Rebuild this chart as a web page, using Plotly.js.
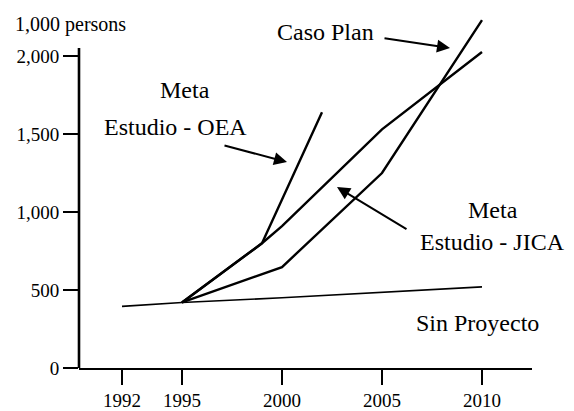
<!DOCTYPE html>
<html>
<head>
<meta charset="utf-8">
<script src="https://cdn.plot.ly/plotly-3.0.1.min.js"></script>
<style>html,body{margin:0;padding:0;background:#fff;}#chart{width:574px;height:411px;}</style>
</head>
<body>
<div id="chart"></div>
<script>
// Data (thousand persons)
var yearsSin = [1992, 1995, 2000, 2005, 2010];
var sinProyecto = [395, 420, 450, 485, 520];

var yearsPlan = [1995, 2000, 2005, 2010];
var casoPlan = [420, 647, 1250, 2230];

var yearsJica = [1995, 1999, 2000, 2005, 2010];
var metaJica = [420, 800, 910, 1530, 2026];

var yearsOea = [1995, 1999, 2002];
var metaOea = [420, 800, 1640];

var xTickVals = [1992, 1995, 2000, 2005, 2010];
var xTickText = ['1992', '1995', '2000', '2005', '2010'];
var yTickVals = [0, 500, 1000, 1500, 2000];
var yTickText = ['0', '500', '1,000', '1,500', '2,000'];

var FONT = 'Liberation Serif, Times New Roman, serif';

var traces = [
  {x: yearsSin, y: sinProyecto, mode: 'lines', line: {color: '#000', width: 1.6}, name: 'Sin Proyecto'},
  {x: yearsPlan, y: casoPlan, mode: 'lines', line: {color: '#000', width: 2.4}, name: 'Caso Plan'},
  {x: yearsJica, y: metaJica, mode: 'lines', line: {color: '#000', width: 2.4}, name: 'Meta Estudio - JICA'},
  {x: yearsOea, y: metaOea, mode: 'lines', line: {color: '#000', width: 2.4}, name: 'Meta Estudio - OEA'}
];

function txt(t, x, y, size) {
  return {text: t, x: x, y: y, xref: 'x', yref: 'y', showarrow: false,
          xanchor: 'center', yanchor: 'middle', font: {family: FONT, size: size || 24, color: '#000'}};
}
function arrow(x, y, ax, ay) {
  return {text: '', x: x, y: y, xref: 'x', yref: 'y', ax: ax, ay: ay, showarrow: true,
          arrowhead: 2, arrowsize: 1.3, arrowwidth: 2, arrowcolor: '#000'};
}

var layout = {
  width: 574, height: 411,
  margin: {l: 79, r: 42, t: 15, b: 43},
  paper_bgcolor: '#fff', plot_bgcolor: '#fff',
  showlegend: false,
  xaxis: {
    range: [1989.85, 2012.5], showgrid: false, zeroline: false,
    showline: true, linecolor: '#000', linewidth: 1.5,
    ticks: 'outside', ticklen: 15, tickwidth: 2.5, tickcolor: '#000',
    tickvals: xTickVals, ticktext: xTickText,
    tickfont: {family: FONT, size: 19, color: '#000'}
  },
  yaxis: {
    range: [0, 2263], showgrid: false, zeroline: false, showline: false,
    ticks: 'outside', ticklen: 15, tickwidth: 1.5, tickcolor: '#000',
    tickvals: yTickVals, ticktext: yTickText,
    tickfont: {family: FONT, size: 19, color: '#000'}
  },
  shapes: [
    {type: 'line', xref: 'paper', yref: 'y', x0: 0, x1: 0, y0: 0, y1: 2051,
     line: {color: '#000', width: 2.6}}
  ],
  annotations: [
    {text: '1,000 persons', xref: 'paper', yref: 'paper', x: (13 - 79) / 453, y: (368 - 24) / 353,
     xanchor: 'left', yanchor: 'middle', showarrow: false, font: {family: FONT, size: 20, color: '#000'}},
    txt('Meta', 1995.15, 1782),
    txt('Estudio - OEA', 1994.65, 1545),
    txt('Caso Plan', 2002.15, 2154),
    txt('Meta', 2010.55, 1013),
    txt('Estudio - JICA', 2010.5, 808),
    txt('Sin Proyecto', 2009.75, 288),
    arrow(2000.25, 1320, -64, -17),
    arrow(2008.4, 2051, -67, -10),
    arrow(2002.75, 1160, 71, 43)
  ]
};

Plotly.newPlot('chart', traces, layout, {displayModeBar: false, staticPlot: true});
</script>
</body>
</html>
